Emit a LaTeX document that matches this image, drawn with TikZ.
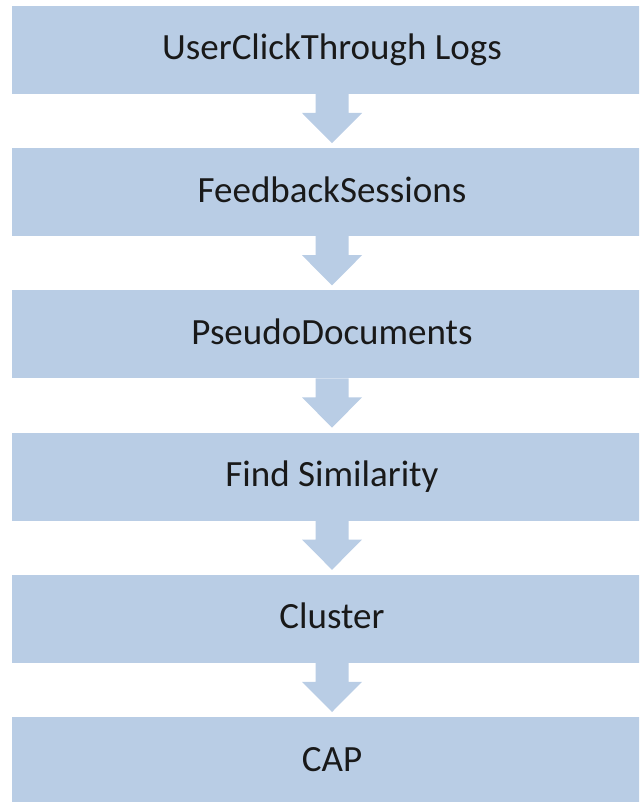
\documentclass[tikz,border=0pt]{standalone}
\usepackage{fontspec}
\setmainfont{Carlito}
\usetikzlibrary{calc}
\definecolor{boxblue}{RGB}{185,205,229}
\newcommand{\flowarrow}[2]{%
  \fill[flowarrowstyle] ($(#1.south)+(-16.5,0)$) -- ($(#1.south)+(16.5,0)$)
    -- ($(#1.south)+(16.5,19)$) -- ($(#1.south)+(30,19)$)
    -- ($(#2.north)+(0,-5)$)
    -- ($(#1.south)+(-30,19)$) -- ($(#1.south)+(-16.5,19)$) -- cycle;}
\begin{document}
\begin{tikzpicture}[x=1pt,y=-1pt,
  stepbox/.style={fill=boxblue, minimum width=640pt, minimum height=88pt,
    inner sep=0pt, outer sep=0pt, text height=25pt, text depth=5pt,
    font=\fontsize{37}{44}\selectfont, text=black!90},
  flowarrowstyle/.style={fill=boxblue}]
\useasboundingbox (0,0) rectangle (639,802);
\clip (0,0) rectangle (639,802);
\node[stepbox] (b1) at (332,50) {UserClickThrough Logs};
\node[stepbox] (b2) at (332,192.2) {FeedbackSessions};
\node[stepbox] (b3) at (332,334.4) {PseudoDocuments};
\node[stepbox] (b4) at (332,476.6) {Find Similarity};
\node[stepbox] (b5) at (332,618.8) {Cluster};
\node[stepbox] (b6) at (332,761) {CAP};
\flowarrow{b1}{b2}
\flowarrow{b2}{b3}
\flowarrow{b3}{b4}
\flowarrow{b4}{b5}
\flowarrow{b5}{b6}
\end{tikzpicture}
\end{document}
